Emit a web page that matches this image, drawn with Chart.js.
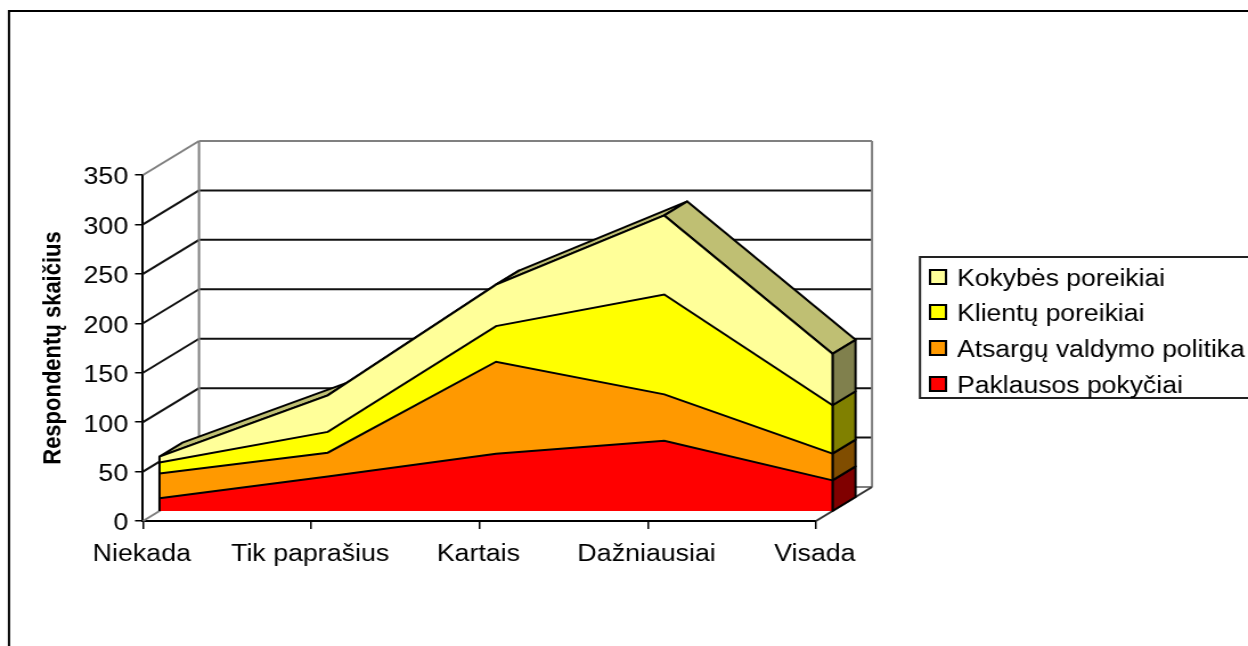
<!DOCTYPE html>
<html lang="lt">
<head>
<meta charset="utf-8">
<title>Respondentų skaičius</title>
<script src="https://cdn.jsdelivr.net/npm/chart.js@4"></script>
<style>
  html, body { margin: 0; padding: 0; background: #fff; overflow: hidden; width: 1248px; height: 646px; }
  #stage { width: 1095px; height: 646px; transform-origin: 0 0; transform: scaleX(1.13973); }
  canvas { display: block; }
</style>
</head>
<body>
<div id="stage"><canvas id="chart" width="1095" height="646"></canvas></div>
<script>
// Survey data
const categories = ['Niekada', 'Tik paprašius', 'Kartais', 'Dažniausiai', 'Visada'];
const paklausosPokyciai = [13, 35, 58, 71, 31];
const atsarguPolitika = [25, 24, 93, 47, 27];
const klientuPoreikiai = [11, 21, 36, 101, 49];
const kokybesPoreikiai = [6, 37, 42, 80, 52];
const yTicks = [0, 50, 100, 150, 200, 250, 300, 350];

// The drawing surface is stretched sideways by this factor; page pixels convert through it.
const STRETCH = 1248 / 1095;
const px = v => v / STRETCH;

const FONT = 'Arial, "Liberation Sans", sans-serif';
const TEXT_SIZE = 23.5;
const KEY_TEXT_SIZE = 23.3;
const WALL = { x: px(56), y: -34 };      // front plane to back wall
const SHIFT = { x: px(16.5), y: -10 };   // front plane to the face of the areas
const DEPTH = { x: px(23), y: -14 };     // thickness of the areas

const shade = (rgb, f) => `rgb(${rgb.map(c => Math.round(c * f)).join(',')})`;
const palette = [[255, 0, 0], [255, 153, 0], [255, 255, 0], [255, 255, 153]];

function poly(ctx, pts, fill) {
  ctx.beginPath();
  pts.forEach((p, i) => i ? ctx.lineTo(p[0], p[1]) : ctx.moveTo(p[0], p[1]));
  ctx.closePath();
  ctx.fillStyle = fill;
  ctx.fill();
  ctx.stroke();
}
function seg(ctx, x1, y1, x2, y2) {
  ctx.beginPath();
  ctx.moveTo(x1, y1);
  ctx.lineTo(x2, y2);
  ctx.stroke();
}

const scene = {
  id: 'scene',
  beforeDraw(chart) {
    const { ctx, width, height } = chart;
    ctx.save();
    ctx.fillStyle = '#fff';
    ctx.fillRect(0, 0, width, height);
    ctx.strokeStyle = '#000';
    ctx.lineWidth = 2;
    ctx.strokeRect(px(9), 11, width + 20, height + 20);
    ctx.restore();
  },
  // Walls and floor sit behind the axes and the areas
  beforeDatasetsDraw(chart) {
    const { ctx, chartArea: a, scales: { y } } = chart;
    const bx = a.left + WALL.x, rx = a.right + WALL.x;
    ctx.save();
    ctx.lineWidth = 2;
    y.ticks.forEach(t => {
      const py = y.getPixelForValue(t.value);
      const edge = t.value === 0 || t.value === 350;
      ctx.strokeStyle = edge ? '#808080' : '#111';
      seg(ctx, a.left, py, bx, py + WALL.y);
      seg(ctx, bx, py + WALL.y, rx, py + WALL.y);
    });
    ctx.strokeStyle = '#808080';
    seg(ctx, bx, a.top + WALL.y, bx, a.bottom + WALL.y);
    seg(ctx, rx, a.top + WALL.y, rx, a.bottom + WALL.y);
    ctx.strokeStyle = '#333';
    seg(ctx, a.right, a.bottom, rx, a.bottom + WALL.y);

    // Everything from here to afterDatasetsDraw is offset into the depth of the plot
    ctx.restore();
    ctx.save();
    ctx.translate(SHIFT.x, SHIFT.y);
    ctx.strokeStyle = '#000';
    ctx.lineWidth = 2;
    ctx.lineJoin = 'round';

    const metas = chart.data.datasets.map((d, i) => chart.getDatasetMeta(i).data);
    const top = metas[metas.length - 1];
    for (let i = 0; i < top.length - 1; i++) {
      poly(ctx, [
        [top[i].x, top[i].y],
        [top[i + 1].x, top[i + 1].y],
        [top[i + 1].x + DEPTH.x, top[i + 1].y + DEPTH.y],
        [top[i].x + DEPTH.x, top[i].y + DEPTH.y]
      ], shade(palette[3], 0.75));
    }
    const base = y.getPixelForValue(0);
    const last = top.length - 1;
    metas.forEach((pts, s) => {
      const p = pts[last];
      const low = s ? metas[s - 1][last].y : base;
      poly(ctx, [
        [p.x, p.y],
        [p.x + DEPTH.x, p.y + DEPTH.y],
        [p.x + DEPTH.x, low + DEPTH.y],
        [p.x, low]
      ], shade(palette[s], 0.5));
    });
  },
  afterDatasetsDraw(chart) {
    const { ctx, scales: { y } } = chart;
    const metas = chart.data.datasets.map((d, i) => chart.getDatasetMeta(i).data);
    const top = metas[metas.length - 1];
    const base = y.getPixelForValue(0);
    ctx.strokeStyle = '#000';
    ctx.lineWidth = 2;
    seg(ctx, top[0].x, top[0].y, top[0].x, base);
    seg(ctx, top[top.length - 1].x, top[top.length - 1].y, top[top.length - 1].x, base);
    ctx.restore();
  },
  // Series key, newest series first
  afterDraw(chart) {
    const { ctx, width } = chart;
    const sets = chart.data.datasets.slice().reverse();
    const rows = [277, 312, 348, 384];
    ctx.save();
    ctx.strokeStyle = '#222';
    ctx.lineWidth = 2;
    ctx.strokeRect(px(920), 257, width, 141);
    ctx.font = `${KEY_TEXT_SIZE}px ${FONT}`;
    ctx.textBaseline = 'middle';
    sets.forEach((d, i) => {
      ctx.fillStyle = d.backgroundColor;
      ctx.fillRect(px(930), rows[i] - 7, px(16), 14);
      ctx.strokeStyle = '#000';
      ctx.strokeRect(px(930), rows[i] - 7, px(16), 14);
      ctx.fillStyle = '#000';
      ctx.fillText(d.label, px(957), rows[i] + 3);
    });
    ctx.restore();
  }
};

const series = [
  { label: 'Paklausos pokyčiai', data: paklausosPokyciai },
  { label: 'Atsargų valdymo politika', data: atsarguPolitika },
  { label: 'Klientų poreikiai', data: klientuPoreikiai },
  { label: 'Kokybės poreikiai', data: kokybesPoreikiai }
];

new Chart(document.getElementById('chart'), {
  type: 'line',
  data: {
    labels: categories,
    datasets: series.map((s, i) => ({
      label: s.label,
      data: s.data,
      backgroundColor: shade(palette[i], 1),
      borderColor: '#000',
      borderWidth: 2,
      fill: i === 0 ? 'origin' : '-1',
      tension: 0,
      pointRadius: 0,
      clip: false
    }))
  },
  plugins: [scene],
  options: {
    responsive: false,
    animation: false,
    devicePixelRatio: 1,
    layout: { padding: { left: 0, top: 175, right: 1095 - px(816), bottom: 0 } },
    plugins: { legend: { display: false }, tooltip: { enabled: false } },
    scales: {
      x: {
        offset: false,
        afterFit(s) { s.height = 125; },
        grid: { drawOnChartArea: false, drawTicks: true, tickLength: 8, color: '#000', lineWidth: 1.5 },
        border: { color: '#000', width: 2 },
        ticks: { color: '#000', font: { family: FONT, size: TEXT_SIZE }, maxRotation: 0, autoSkip: false, padding: 11, labelOffset: -1 }
      },
      y: {
        stacked: true,
        min: 0,
        max: 350,
        afterFit(s) { s.width = px(143); },
        afterBuildTicks(s) { s.ticks = yTicks.map(value => ({ value })); },
        grid: { drawOnChartArea: false, drawTicks: true, tickLength: 7, color: '#000', lineWidth: 1.5 },
        border: { color: '#000', width: 2 },
        ticks: { color: '#000', font: { family: FONT, size: TEXT_SIZE }, padding: 6, labelOffset: 3 },
        title: {
          display: true,
          text: 'Respondentų skaičius',
          color: '#000',
          font: { family: FONT, size: 22, weight: 'bold' },
          padding: { top: 34, bottom: 0 }
        }
      }
    }
  }
});
</script>
</body>
</html>
